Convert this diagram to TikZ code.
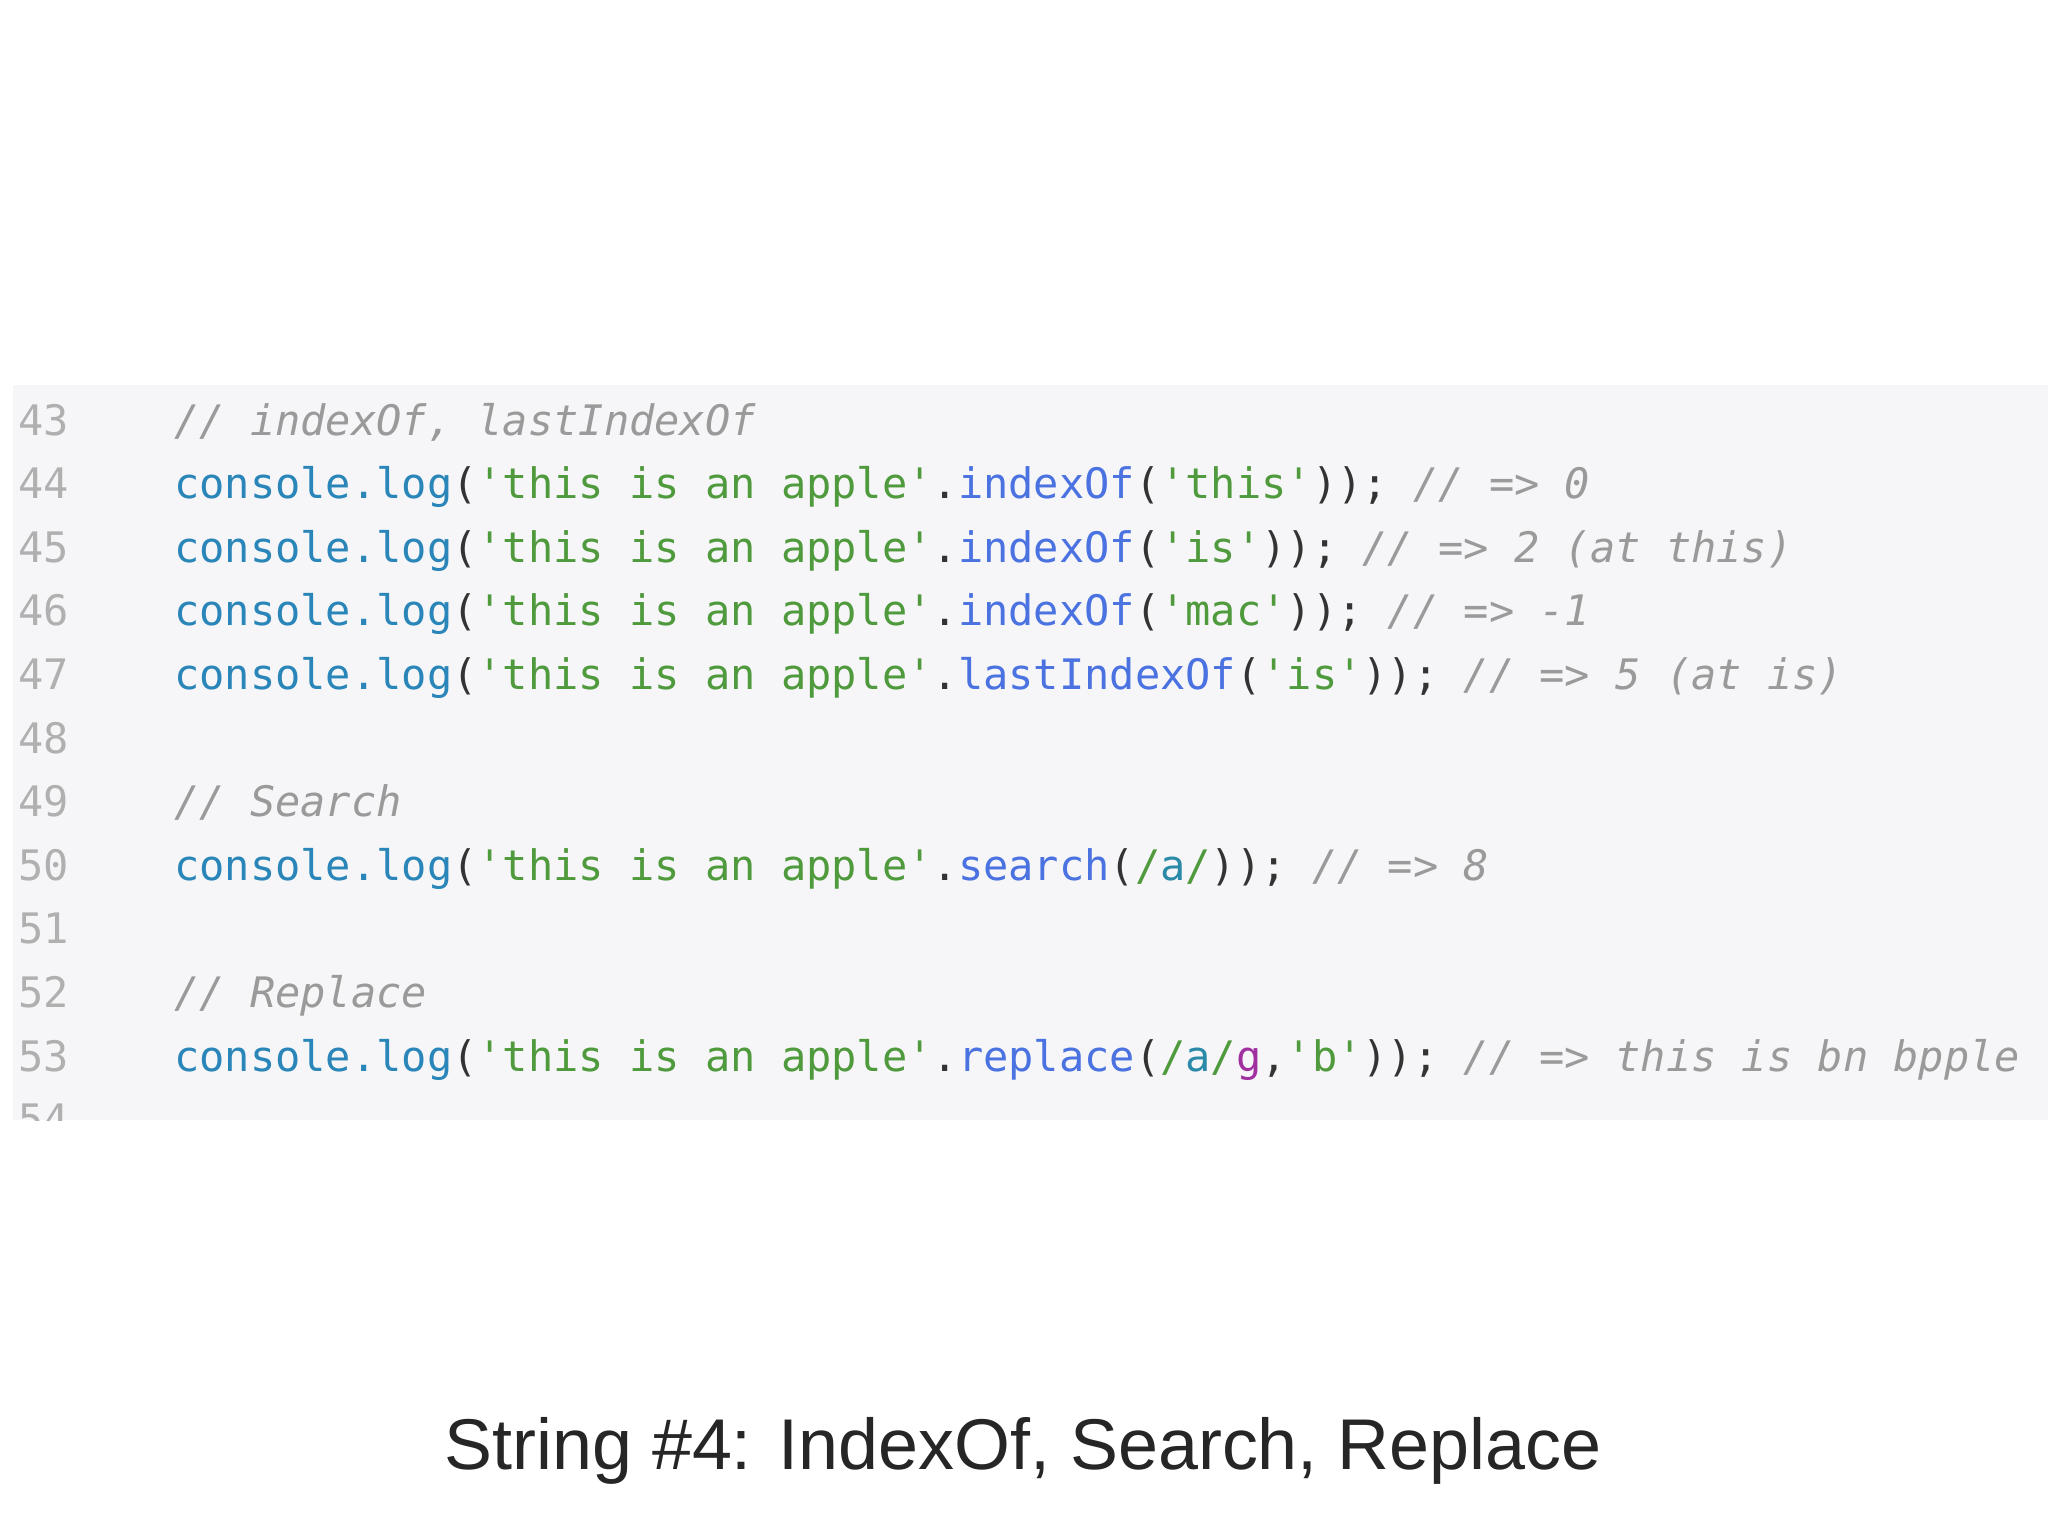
\documentclass[tikz,border=0pt]{standalone}
\usepackage{fontspec}
\newfontfamily\codefont{DejaVu Sans Mono}
\newfontfamily\titlefont{Liberation Sans}
\definecolor{panel}{HTML}{F6F6F8}
\definecolor{cblue}{HTML}{2A86B8}
\definecolor{cgreen}{HTML}{4F9A3C}
\definecolor{cmeth}{HTML}{4A72E0}
\definecolor{cgray}{HTML}{9A9A9A}
\definecolor{cnum}{HTML}{B0B0B0}
\definecolor{cdark}{HTML}{333333}
\definecolor{cpur}{HTML}{A030A0}
\definecolor{cteal}{HTML}{2A8AA8}
\newcommand{\q}{\char"27 }
\newcommand{\cl}{\textcolor{cblue}{console.log}}
\newcommand{\str}{\textcolor{cgreen}{\q this is an apple\q}}
\newcommand{\dk}[1]{\textcolor{cdark}{#1}}
\newcommand{\mt}[1]{\textcolor{cmeth}{#1}}
\newcommand{\gs}[1]{\textcolor{cgreen}{#1}}
\newcommand{\cm}[1]{\textcolor{cgray}{\itshape #1}}
\tikzset{codeline/.style={anchor=base west,inner sep=0pt,font=\codefont\fontsize{42}{50}\selectfont},
lnum/.style={anchor=base west,inner sep=0pt,text=cnum,font=\codefont\fontsize{42}{50}\selectfont}}
\begin{document}
\begin{tikzpicture}[x=1pt,y=-1pt]
\useasboundingbox (0,0) rectangle (2048,1536);
\fill[white] (0,0) rectangle (2048,1536);
\fill[panel] (13,385) rectangle (2048,1120);
\begin{scope}
\clip (13,385) rectangle (2048,1120);
\foreach \n [count=\i from 0] in {43,...,54} {
  \node[lnum] (n\n) at (18,435+\i*63.6) {\n};
}
\end{scope}
\node[codeline] (l43) at (174,435) {\cm{// indexOf, lastIndexOf}};
\node[codeline] (l44) at (174,498.6) {\cl\dk{(}\str\dk{.}\mt{indexOf}\dk{(}\gs{\q this\q}\dk{));} \cm{// => 0}};
\node[codeline] (l45) at (174,562.2) {\cl\dk{(}\str\dk{.}\mt{indexOf}\dk{(}\gs{\q is\q}\dk{));} \cm{// => 2 (at this)}};
\node[codeline] (l46) at (174,625.8) {\cl\dk{(}\str\dk{.}\mt{indexOf}\dk{(}\gs{\q mac\q}\dk{));} \cm{// => -1}};
\node[codeline] (l47) at (174,689.4) {\cl\dk{(}\str\dk{.}\mt{lastIndexOf}\dk{(}\gs{\q is\q}\dk{));} \cm{// => 5 (at is)}};
\node[codeline] (l49) at (174,816.6) {\cm{// Search}};
\node[codeline] (l50) at (174,880.2) {\cl\dk{(}\str\dk{.}\mt{search}\dk{(}\gs{/}\textcolor{cteal}{a}\gs{/}\dk{));} \cm{// => 8}};
\node[codeline] (l52) at (174,1007.4) {\cm{// Replace}};
\node[codeline] (l53) at (174,1071) {\cl\dk{(}\str\dk{.}\mt{replace}\dk{(}\gs{/}\textcolor{cteal}{a}\gs{/}\textcolor{cpur}{g}\dk{,}\gs{\q b\q}\dk{));} \cm{// => this is bn bpple}};
\node[anchor=base,inner sep=0pt,text=black!85] (title) at (1023,1469) {\resizebox{1157pt}{!}{\titlefont String \#4: IndexOf, Search, Replace}};
\end{tikzpicture}
\end{document}
